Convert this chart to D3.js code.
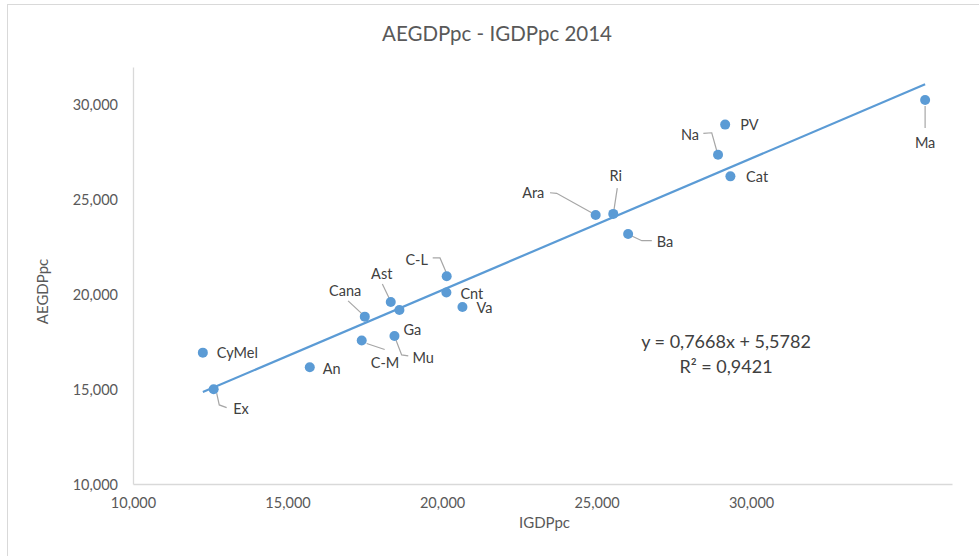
<!DOCTYPE html>
<html>
<head>
<meta charset="utf-8">
<script src="https://cdn.jsdelivr.net/npm/d3@7/dist/d3.min.js"></script>
<style>
  html, body { margin: 0; padding: 0; background: #fff; }
  svg { display: block; font-family: Lato, "Open Sans", sans-serif; }
</style>
</head>
<body>
<svg id="chart" width="979" height="556"></svg>
<script>
// ---- DATA ----
const regions = ["CyMel","Ex","An","Cana","C-M","Ast","Ga","Mu","C-L","Cnt","Va","Ara","Ri","Ba","Na","PV","Cat","Ma"];
const igdppc  = [12260, 12610, 15720, 17500, 17400, 18340, 18620, 18460, 20150, 20140, 20660, 24970, 25540, 26020, 28930, 29160, 29330, 35630];
const aegdppc = [16930, 15000, 16160, 18830, 17570, 19600, 19180, 17810, 20960, 20100, 19340, 24190, 24250, 23190, 27370, 28960, 26230, 30260];
const xTicks = [10000, 15000, 20000, 25000, 30000];
const yTicks = [10000, 15000, 20000, 25000, 30000];
const titleText = "AEGDPpc - IGDPpc 2014";
const xTitle = "IGDPpc";
const yTitle = "AEGDPpc";
const equationLines = ["y = 0,7668x + 5,5782", "R\u00B2 = 0,9421"];

// ---- LAYOUT (label placement relative to each point, in px) ----
const labelLayout = {
  "CyMel": {dx: 14, dy: 0, anchor: "start"},
  "Ex":    {dx: 19.5, dy: 19, anchor: "start", leader: [[3,4],[5.6,15.7],[13,18.4]]},
  "An":    {dx: 13, dy: 1, anchor: "start"},
  "Cana":  {dx: -19.7, dy: -26, anchor: "middle", leader: [[-16.7,-15.7],[-3,-3]]},
  "C-M":   {dx: 23.3, dy: 22, anchor: "middle", leader: [[5,3],[23,9]]},
  "Ast":   {dx: -9, dy: -29, anchor: "middle", leader: [[-8.4,-18],[-1.7,-4]]},
  "Ga":    {dx: 4, dy: 20, anchor: "start"},
  "Mu":    {dx: 18, dy: 22, anchor: "start", leader: [[1.5,4],[7.2,19],[13.8,20]]},
  "C-L":   {dx: -30, dy: -17, anchor: "middle", leader: [[-14,-18.3],[-6.7,-18.3],[-0.7,-4.3]]},
  "Cnt":   {dx: 14, dy: 1, anchor: "start"},
  "Va":    {dx: 14, dy: 1, anchor: "start"},
  "Ara":   {dx: -62.4, dy: -22.3, anchor: "middle", leader: [[-45.7,-22.3],[-39,-21.7],[-4,-2.3]]},
  "Ri":    {dx: 2.4, dy: -38, anchor: "middle", leader: [[4,-25.7],[0.7,-4]]},
  "Ba":    {dx: 28.7, dy: 7.7, anchor: "start", leader: [[3.7,2],[13.7,6.7],[23.7,6.7]]},
  "Na":    {dx: -28, dy: -20.7, anchor: "middle", leader: [[-14.7,-21.4],[-6.3,-22],[-1.3,-4]]},
  "PV":    {dx: 15, dy: 0, anchor: "start"},
  "Cat":   {dx: 15.7, dy: 0, anchor: "start"},
  "Ma":    {dx: 0, dy: 43, anchor: "middle", leader: [[0,6],[0,28]]}
};

const svg = d3.select("#chart");
const blue = "#5b9bd5";
const axisGray = "#d9d9d9";
const textGray = "#595959";
const labelGray = "#404040";

// chart frame
svg.append("rect").attr("x", 7.5).attr("y", 4.5).attr("width", 1000).attr("height", 600)
  .attr("fill", "#fff").attr("stroke", axisGray).attr("stroke-width", 1);

const x = d3.scaleLinear().domain([10000, 36500]).range([133, 952]);
const y = d3.scaleLinear().domain([10000, 32000]).range([484, 67]);
const fmt = d3.format(",");

// title
svg.append("text").attr("x", 497).attr("y", 33).attr("text-anchor", "middle")
  .attr("dominant-baseline", "central").attr("fill", textGray)
  .style("font-size", "20.5px").text(titleText);

// axes
const xAxis = svg.append("g").attr("transform", `translate(0,${y(10000)})`)
  .call(d3.axisBottom(x).tickValues(xTicks).tickFormat(fmt).tickSize(0).tickPadding(14));
const yAxis = svg.append("g").attr("transform", `translate(${x(10000)},0)`)
  .call(d3.axisLeft(y).tickValues(yTicks).tickFormat(fmt).tickSize(0).tickPadding(15));
[xAxis, yAxis].forEach(g => {
  g.select(".domain").attr("stroke", axisGray).attr("stroke-width", 1.3);
  g.selectAll("text").attr("fill", textGray).style("font-size", "14.5px")
    .style("font-family", "Lato, 'Open Sans', sans-serif");
});
yAxis.selectAll("text").attr("dy", "0.35em");

// axis titles
svg.append("text").attr("x", (x.range()[0] + x.range()[1]) / 2 + 2).attr("y", 522)
  .attr("text-anchor", "middle").attr("dominant-baseline", "central")
  .attr("fill", textGray).style("font-size", "15px").text(xTitle);
svg.append("text").attr("transform", `translate(42,${(y.range()[0] + y.range()[1]) / 2 + 16}) rotate(-90)`)
  .attr("text-anchor", "middle").attr("dominant-baseline", "central")
  .attr("fill", textGray).style("font-size", "15px").text(yTitle);

// trendline (least squares over the data)
const n = igdppc.length;
const mx = d3.mean(igdppc), my = d3.mean(aegdppc);
let sxy = 0, sxx = 0;
for (let i = 0; i < n; i++) { sxy += (igdppc[i]-mx)*(aegdppc[i]-my); sxx += (igdppc[i]-mx)**2; }
const slope = sxy / sxx, intercept = my - slope * mx;
const [xmin, xmax] = d3.extent(igdppc);
svg.append("line")
  .attr("x1", x(xmin)).attr("y1", y(intercept + slope * xmin))
  .attr("x2", x(xmax)).attr("y2", y(intercept + slope * xmax))
  .attr("stroke", blue).attr("stroke-width", 2.2);

// leader lines
const pts = regions.map((r, i) => ({name: r, px: x(igdppc[i]), py: y(aegdppc[i])}));
const lineGen = d3.line();
svg.append("g").selectAll("path").data(pts.filter(p => labelLayout[p.name].leader))
  .join("path")
  .attr("d", p => lineGen(labelLayout[p.name].leader.map(([dx, dy]) => [p.px + dx, p.py + dy])))
  .attr("fill", "none").attr("stroke", "#a6a6a6").attr("stroke-width", 1.2);

// points
svg.append("g").selectAll("circle").data(pts).join("circle")
  .attr("cx", p => p.px).attr("cy", p => p.py).attr("r", 5)
  .attr("fill", blue);

// labels
svg.append("g").selectAll("text").data(pts).join("text")
  .attr("x", p => p.px + labelLayout[p.name].dx)
  .attr("y", p => p.py + labelLayout[p.name].dy)
  .attr("text-anchor", p => labelLayout[p.name].anchor)
  .attr("dominant-baseline", "central")
  .attr("fill", labelGray).style("font-size", "14.5px")
  .text(p => p.name);

// equation
svg.append("g").selectAll("text").data(equationLines).join("text")
  .attr("x", 726).attr("y", (d, i) => 341 + i * 25)
  .attr("text-anchor", "middle").attr("dominant-baseline", "central")
  .attr("fill", labelGray).style("font-size", "18px")
  .text(d => d);
</script>
</body>
</html>
